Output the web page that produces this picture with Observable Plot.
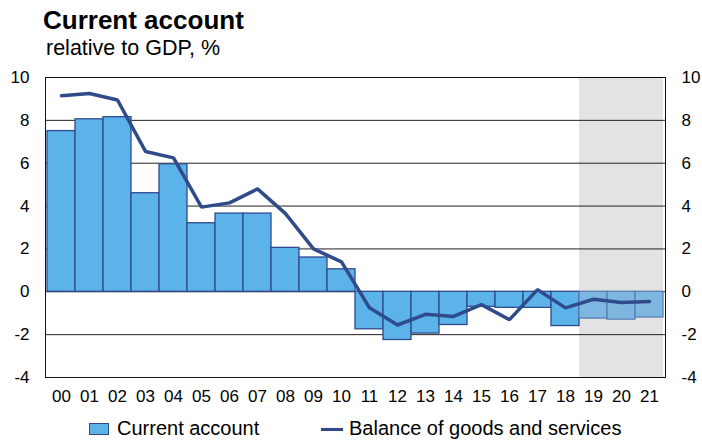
<!DOCTYPE html>
<html><head><meta charset="utf-8">
<script src="https://cdn.jsdelivr.net/npm/d3@7"></script>
<script src="https://cdn.jsdelivr.net/npm/@observablehq/plot@0.6"></script>
<style>
body{margin:0;background:#fff;font-family:"Liberation Sans",Arial,sans-serif;color:#000}
#wrap{position:relative;width:702px;height:441px;overflow:hidden}
#head{position:relative;height:62px}
#t{position:absolute;left:43px;top:8px;font-size:26px;line-height:24px;font-weight:bold;white-space:nowrap}
#s{position:absolute;left:46px;top:38px;font-size:21.5px;line-height:20px;white-space:nowrap}
#legend{position:absolute;left:0;top:415px;width:702px;height:26px;font-size:20px;line-height:26px}
.sw{position:absolute;top:8px;left:89px;width:20px;height:12px;background:#5bb3ea;border:1px solid #2e4c8c;box-sizing:border-box}
.ln{position:absolute;top:13px;left:321px;width:22px;height:3px;background:#2f4b8a}
.lt{position:absolute;top:0;white-space:nowrap}
</style></head><body>
<div id="wrap">
<div id="head"><div id="t">Current account</div><div id="s">relative to GDP, %</div></div>
<div id="chart"></div>
<div id="legend">
 <div class="sw"></div><div class="lt" style="left:117px">Current account</div>
 <div class="ln"></div><div class="lt" style="left:349px">Balance of goods and services</div>
</div>
</div>
<script>
const years = ["00","01","02","03","04","05","06","07","08","09","10","11","12","13","14","15","16","17","18","19","20","21"];
const currentAccount = [7.5, 8.05, 8.15, 4.6, 5.95, 3.2, 3.65, 3.65, 2.05, 1.6, 1.05, -1.75, -2.25, -1.95, -1.55, -0.7, -0.75, -0.75, -1.6, -1.25, -1.3, -1.2];
const balance = [9.15, 9.25, 8.95, 6.55, 6.25, 3.95, 4.15, 4.8, 3.65, 2.0, 1.4, -0.75, -1.55, -1.05, -1.15, -0.6, -1.3, 0.1, -0.75, -0.35, -0.5, -0.45];
const forecastYears = ["19","20","21"];
const yTicks = [-4,-2,0,2,4,6,8,10];

const data = years.map((y,i)=>({year:y, ca:currentAccount[i], bal:balance[i], fc: forecastYears.includes(y)}));
const fmt = d => String(d);

const chart = Plot.plot({
  width: 702,
  height: 353,
  marginTop: 15,
  marginBottom: 38,
  marginLeft: 45,
  marginRight: 37,
  style: {fontFamily: '"Liberation Sans", Arial, sans-serif', fontSize: "17px", color: "#000", background: "#fff"},
  x: {type: "band", domain: years, padding: 0},
  y: {domain: [-4, 10]},
  marks: [
    Plot.barY(forecastYears, {x: d => d, y1: -4, y2: 10, fill: "#e3e3e3"}),
    Plot.ruleY(yTicks, {stroke: "#222", strokeWidth: 1}),
    Plot.barY(data.filter(d => !d.fc), {x: "year", y: "ca", fill: "#5bb3ea", stroke: "#2e4c8c", strokeWidth: 1.3}),
    Plot.barY(data.filter(d => d.fc), {x: "year", y: "ca", fill: "#7db7df", stroke: "#5b7db5", strokeWidth: 1.3}),
    Plot.line(data, {x: "year", y: "bal", stroke: "#2f4b8a", strokeWidth: 3.5, strokeLinejoin: "miter"}),
    Plot.frame({stroke: "#111", strokeWidth: 1}),
    Plot.axisY(yTicks, {anchor: "left", tickSize: 0, tickPadding: 16, fontSize: 17, label: null, tickFormat: fmt}),
    Plot.axisY(yTicks, {anchor: "right", tickSize: 0, tickPadding: 16, fontSize: 17, label: null, tickFormat: fmt}),
    Plot.axisX({tickSize: 0, tickPadding: 12, fontSize: 17, label: null})
  ]
});
document.getElementById("chart").appendChild(chart);
</script>
</body></html>
